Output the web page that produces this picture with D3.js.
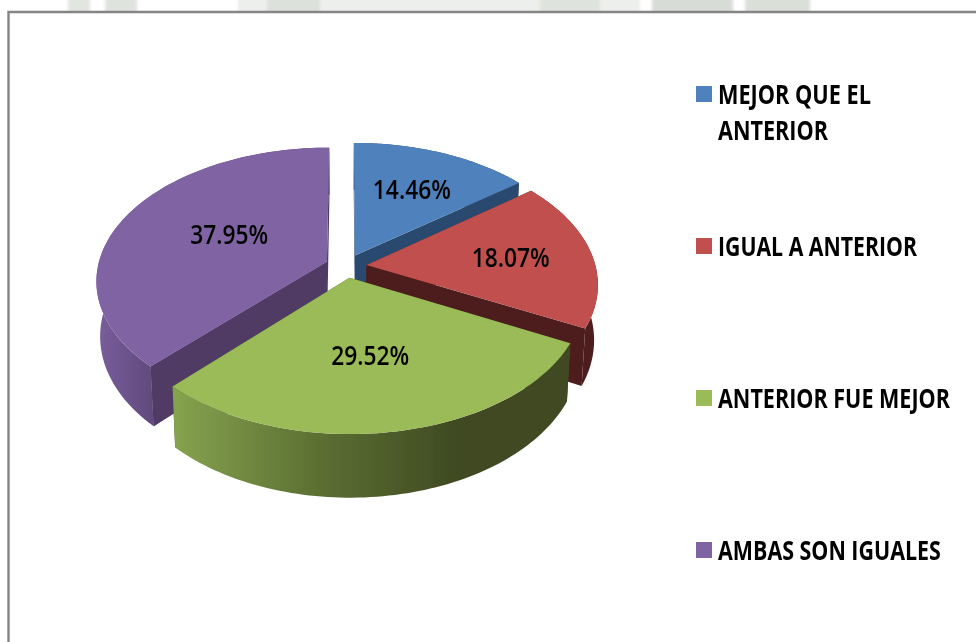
<!DOCTYPE html>
<html><head><meta charset="utf-8">
<script src="https://cdnjs.cloudflare.com/ajax/libs/d3/7.8.5/d3.min.js"></script>
<style>html,body{margin:0;padding:0;background:#fff}svg{display:block}text{font-family:"Open Sans","Noto Sans",sans-serif;fill:#050505;font-weight:700}text.dl{font-weight:600}</style>
</head><body><svg id="c" width="976" height="642"></svg>
<script>
const categories = ["MEJOR QUE EL|ANTERIOR","IGUAL A ANTERIOR","ANTERIOR FUE MEJOR","AMBAS SON IGUALES"];
const values = [14.46,18.07,29.52,37.95];
const topColors = ["#4f81bd","#c0504d","#9bbb59","#8064a2"];
const faceColors = ["#2c4a6e","#4d1f1e","#3f4a22","#4f3b63"];
const labelRadii = [0.6,0.63,0.57,0.5];
const labelShiftX = [2,2,-4,5];
const labelShiftY = [-2,0,-5,-4];
const drawOrder = [0,3,1,2];
const legendWidths = [[153,110],[199],[232],[223]];

const W=976,H=642, cx=346, cy=266, A=229, B=131, P=0.139, explode=0.09, depth=54, taper=0.985;
const svg=d3.select("#c");
const defs=svg.append("defs");
defs.append("filter").attr("id","soft").append("feGaussianBlur").attr("stdDeviation",0.5);
const wmBlur=defs.append("filter").attr("id","wmb");
wmBlur.append("feGaussianBlur").attr("stdDeviation",1.5);
function grad(id,stops,x1,x2){
  const g=defs.append("linearGradient").attr("id",id).attr("gradientUnits","userSpaceOnUse").attr("x1",x1).attr("x2",x2).attr("y1",0).attr("y2",0);
  stops.forEach(s=>g.append("stop").attr("offset",s[0]).attr("stop-color",s[1]));
}
grad("rim2",[[0,"#85a24e"],[0.5,"#5c7033"],[1,"#3f4a22"]],176,457);
grad("rim3",[[0,"#7a5e9c"],[1,"#5d4879"]],95,160);

// faded watermark remains above the frame
const wm=[[68,22,"#e2e6e0"],[105,32,"#dfe3dd"],[238,402,"#edefec"],[267,53,"#dde1db"],[540,60,"#dfe3dd"],[652,81,"#d8dcd6"],[745,65,"#dadfd8"]];
svg.append("g").attr("filter","url(#wmb)").selectAll("rect").data(wm).join("rect").attr("x",d=>d[0]).attr("y",-6).attr("width",d=>d[1]).attr("height",20).attr("fill",d=>d[2]);
svg.append("rect").attr("x",0).attr("y",12).attr("width",W).attr("height",H-12).attr("fill","#fff");

// frame
svg.append("path").attr("d","M8.5,642V12H976").attr("fill","none").attr("stroke","#858585").attr("stroke-width",2.4);

const slices=d3.pie().sort(null).startAngle(0).endAngle(2*Math.PI)(values);

function proj(wx,wy){ // world: x right, y back, unit radius
  const k=1+P*wy;
  return [A*wx/k, -B*wy/k, k];
}
function pt(s,r,a){
  const mid=(s.startAngle+s.endAngle)/2;
  const wx=explode*Math.sin(mid)+r*Math.sin(a);
  const wy=explode*Math.cos(mid)+r*Math.cos(a);
  const [x,y]=proj(wx,wy);
  return [cx+x,cy+y,wy];
}
function lower(p){
  const k=1+P*p[2];
  return [cx+(p[0]-cx)*taper, p[1]+depth/k];
}
const line=d3.line().curve(d3.curveLinear);
const g=svg.append("g").attr("filter","url(#soft)");
const rimFill=["#2c4a6e","#4d1f1e","url(#rim2)","url(#rim3)"];

drawOrder.forEach(i=>{
  const s=slices[i];
  const arcPts=d3.range(0,81).map(j=>pt(s,1,s.startAngle+(s.endAngle-s.startAngle)*j/80));
  const apex=pt(s,0,0);
  const face=e=>{const q=pt(s,1,e);return line([apex,q,lower(q),lower(apex)].map(p=>[p[0],p[1]]));};
  g.append("path").attr("d",face(s.startAngle)).attr("fill",faceColors[i]);
  g.append("path").attr("d",face(s.endAngle)).attr("fill",faceColors[i]);
  const rim=arcPts.map(p=>[p[0],p[1]]).concat(arcPts.slice().reverse().map(lower));
  g.append("path").attr("d",line(rim)+"Z").attr("fill",rimFill[i]);
  if(i===3) g.append("path").attr("d",face(s.startAngle)).attr("fill",faceColors[i]);
  const top=[apex].concat(arcPts).map(p=>[p[0],p[1]]);
  g.append("path").attr("d",line(top)+"Z").attr("fill",topColors[i]);
});

// condensed text: real text squeezed horizontally to the width seen in the reference
function squeezed(parent,str,x,y,size,width,anchor,cls){
  const t=parent.append("text").attr("class",cls).attr("font-size",size).attr("text-anchor",anchor).text(str);
  const sx=width/t.node().getComputedTextLength();
  t.attr("transform",`translate(${x},${y}) scale(${sx},1)`);
  return t;
}

// data labels
const fmt=d3.format(".2f");
slices.forEach((s,i)=>{
  const mid=(s.startAngle+s.endAngle)/2;
  const p=pt(s,labelRadii[i],mid);
  squeezed(g,fmt(values[i])+"%",p[0]+labelShiftX[i],p[1]+labelShiftY[i]+10,27,78,"middle","dl");
});

// legend
const ly=d3.scalePoint().domain(categories).range([94,550]);
const leg=g.append("g");
categories.forEach((c,i)=>{
  const y=ly(c);
  leg.append("rect").attr("x",696).attr("y",y-8).attr("width",16).attr("height",16).attr("fill",topColors[i]);
  c.split("|").forEach((t,j)=>{
    squeezed(leg,t,718,y+9.5+j*36,26,legendWidths[i][j],"start","lg");
  });
});
</script></body></html>
